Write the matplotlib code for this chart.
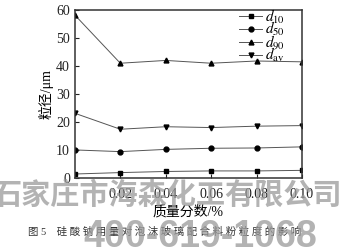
import matplotlib
matplotlib.use("Agg")
import matplotlib.pyplot as plt

plt.rcParams['font.family'] = ['Liberation Serif', 'Noto Sans CJK SC']
plt.rcParams['mathtext.fontset'] = 'stix'

# mass fraction of sodium silicate (%)
x = [0.00, 0.02, 0.04, 0.06, 0.08, 0.10]
d10 = [1.4, 1.9, 2.3, 2.5, 2.5, 2.7]
d50 = [10.0, 9.4, 10.2, 10.6, 10.7, 11.1]
d90 = [58.2, 41.0, 42.0, 41.0, 41.8, 41.5]
dav = [23.1, 17.4, 18.3, 18.0, 18.5, 18.7]

xticks = [0.02, 0.04, 0.06, 0.08, 0.10]
xticklabels = ['0.02', '0.04', '0.06', '0.08', '0.10']
yticks = [0, 10, 20, 30, 40, 50, 60]

fig = plt.figure(figsize=(3.42, 2.52), dpi=100)
ax = fig.add_axes([0.219, 0.294, 0.664, 0.666])

line_kw = dict(color='#555555', lw=0.7, markersize=3.5, markerfacecolor='black',
               markeredgecolor='black')
ax.plot(x, d10, marker='s', label='$d_{10}$', **line_kw)
ax.plot(x, d50, marker='o', label='$d_{50}$', **line_kw)
ax.plot(x, d90, marker='^', label='$d_{90}$', **line_kw)
ax.plot(x, dav, marker='v', label='$d_{\\mathrm{av}}$', **line_kw)

ax.set_xlim(0, 0.10)
ax.set_ylim(0, 60)
ax.set_xticks(xticks)
ax.set_xticklabels(xticklabels)
ax.set_yticks(yticks)
ax.tick_params(direction='in', length=3, width=0.8, labelsize=10, colors='#222222')
ax.tick_params(axis='x', pad=7)
for s in ax.spines.values():
    s.set_linewidth(1.1)
    s.set_color('#333333')

ax.set_ylabel('粒径/μm', fontsize=10, labelpad=2)
ax.set_xlabel('质量分数/%', fontsize=10, labelpad=3)

leg = ax.legend(loc='upper left', bbox_to_anchor=(0.70, 0.97),
                bbox_transform=fig.transFigure, frameon=False, fontsize=11,
                handlelength=1.5, labelspacing=-0.35, borderaxespad=0,
                handletextpad=0.2, borderpad=0)

# caption
fig.text(0.48, 0.079, '图 5    硅 酸 钠 用 量 对 泡 沫 玻 璃 配 合 料 粉 粒 度 的 影 响',
         ha='center', va='center', fontsize=7.5, color='#333333')

# watermark
fig.text(0.49, 0.19, '石家庄市海森化工有限公司', ha='center', va='baseline',
         fontsize=21, fontweight='bold', color='#9a9a9a', alpha=0.75,
         family=['Noto Sans CJK SC'])
fig.text(0.585, 0.018, '400-619-1068', ha='center', va='baseline',
         fontsize=27, fontweight='bold', color='#9a9a9a', alpha=0.75,
         family=['Liberation Sans'])

fig.savefig('out.png', dpi=100)
